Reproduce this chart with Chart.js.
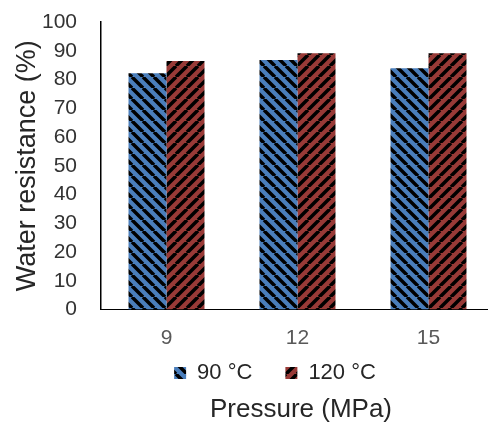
<!DOCTYPE html>
<html>
<head>
<meta charset="utf-8">
<script src="https://cdn.jsdelivr.net/npm/chart.js@4/dist/chart.umd.min.js"></script>
<style>
  html, body { margin: 0; padding: 0; background: #fff; }
  #wrap { width: 488px; height: 423px; overflow: hidden; }
</style>
</head>
<body>
<div id="wrap">
  <canvas id="chart" width="494" height="423"></canvas>
</div>
<script>
const pressures = ["9", "12", "15"];
const resist90 = [82.2, 86.8, 83.9];
const resist120 = [86.4, 89.1, 89.1];
const yTicks = [0, 10, 20, 30, 40, 50, 60, 70, 80, 90, 100];

// hatched fill: black diagonal stripes over a solid colour
function hatch(color, downward) {
    const size = 11;
    const c = document.createElement("canvas");
    c.width = size;
    c.height = size;
    const g = c.getContext("2d");
    g.fillStyle = color;
    g.fillRect(0, 0, size, size);
    g.strokeStyle = "#000";
    g.lineWidth = 3.5;
    g.beginPath();
    for (let k = -1; k <= 1; k++) {
        if (downward) {
            g.moveTo(k * size, 0);
            g.lineTo(k * size + size, size);
        } else {
            g.moveTo(k * size, size);
            g.lineTo(k * size + size, 0);
        }
    }
    g.stroke();
    return g.createPattern(c, "repeat");
}

// legend and axis title sit centred under the bars rather than the canvas
const nudgeBoxes = {
    id: "nudgeBoxes",
    afterLayout(chart) {
        const lg = chart.legend;
        lg.left += 28; lg.right += 28;
        lg.top = 329; lg.bottom = 397;
        const t = chart.titleBlock;
        t.left += 54; t.right += 54;
        t.top = 397; t.bottom = 423;
    }
};

const ctx = document.getElementById("chart").getContext("2d");

new Chart(ctx, {
    type: "bar",
    data: {
        labels: pressures,
        datasets: [
            { label: "90 °C", data: resist90, backgroundColor: hatch("#4A7EBB", true), borderWidth: 0 },
            { label: "120 °C", data: resist120, backgroundColor: hatch("#983A37", false), borderWidth: 0 }
        ]
    },
    plugins: [nudgeBoxes],
    options: {
        responsive: false,
        animation: false,
        layout: { padding: { top: 22, left: 0, right: 0, bottom: 0 } },
        datasets: { bar: { categoryPercentage: 0.58, barPercentage: 1 } },
        plugins: {
            legend: {
                position: "bottom",
                maxHeight: 20,
                labels: {
                    boxWidth: 12,
                    boxHeight: 12,
                    padding: 33,
                    color: "#262626",
                    font: { family: "'Liberation Sans', Arial", size: 22 }
                }
            },
            title: {
                display: true,
                position: "bottom",
                text: "Pressure (MPa)",
                color: "#262626",
                font: { family: "'Liberation Sans', Arial", size: 26, weight: "normal", lineHeight: 1 },
                padding: 0
            },
            tooltip: { enabled: false }
        },
        scales: {
            x: {
                grid: { display: false, drawTicks: false },
                border: { display: true, color: "#000", width: 1 },
                ticks: {
                    color: "#595959",
                    padding: 16,
                    font: { family: "'Liberation Sans', Arial", size: 21 }
                },
                afterFit: scale => { scale.height = 67.5; }
            },
            y: {
                min: 0,
                max: 100,
                afterBuildTicks: scale => { scale.ticks = yTicks.map(v => ({ value: v })); },
                grid: { display: false, drawTicks: false },
                border: { display: true, color: "#000", width: 1.5 },
                ticks: {
                    autoSkip: false,
                    color: "#333333",
                    padding: 24,
                    font: { family: "'Liberation Sans', Arial", size: 21 }
                },
                title: {
                    display: true,
                    text: "Water resistance (%)",
                    color: "#262626",
                    padding: { top: 11, bottom: 0 },
                    font: { family: "'Liberation Sans', Arial", size: 27 }
                },
                afterFit: scale => {
                    scale.width = 101;
                    scale.paddingTop = 0;
                    scale.paddingBottom = 0;
                }
            }
        }
    }
});
</script>
</body>
</html>
